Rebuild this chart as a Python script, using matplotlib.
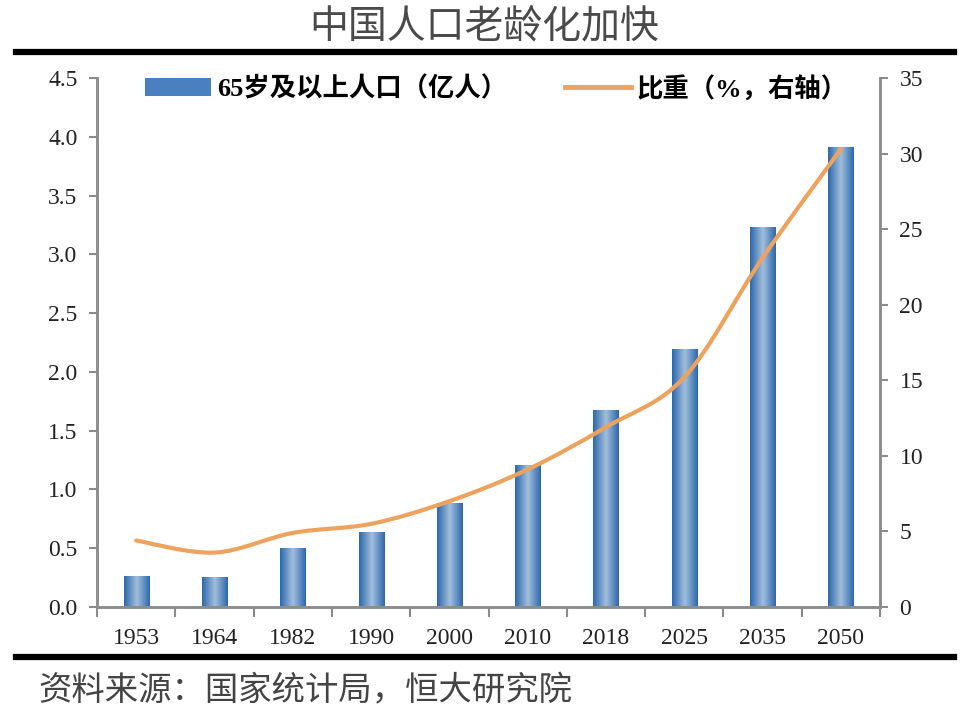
import numpy as np
import matplotlib
matplotlib.use("Agg")
import matplotlib.pyplot as plt
from matplotlib.colors import LinearSegmentedColormap
from matplotlib.path import Path
from matplotlib.patches import PathPatch, Patch
from matplotlib.lines import Line2D

plt.rcParams['font.family'] = ['Liberation Serif', 'Noto Sans CJK SC', 'DejaVu Sans']

years = ['1953', '1964', '1982', '1990', '2000', '2010', '2018', '2025', '2035', '2050']
pop65 = [0.26, 0.25, 0.50, 0.63, 0.88, 1.20, 1.67, 2.19, 3.23, 3.91]   # 亿人
share = [4.4, 3.6, 4.9, 5.5, 7.0, 9.1, 11.9, 15.2, 23.1, 30.3]        # %

bar_label = '65岁及以上人口（亿人）'
line_label = '比重（%，右轴）'
title = '中国人口老龄化加快'
source = '资料来源：国家统计局，恒大研究院'

axis_gray = '#8c8c8c'
orange = '#eda35e'
bar_cmap = LinearSegmentedColormap.from_list('cyl', ['#2d68ad', '#a3bfdc', '#2d68ad'])

fig = plt.figure(figsize=(9.69, 7.18), dpi=100)
ax = fig.add_axes([0.1001, 0.1546, 0.8081, 0.7368])
ax2 = ax.twinx()

# bars with a horizontal gradient
x = np.arange(len(years))
w = 0.32
grad = np.linspace(0, 1, 64).reshape(1, -1)
for xi, h in zip(x, pop65):
    ax.imshow(grad, cmap=bar_cmap, aspect='auto', extent=[xi - w / 2, xi + w / 2, 0, h],
              interpolation='bicubic', zorder=2)

ax.set_xlim(-0.5, len(years) - 0.5)
ax.set_ylim(0, 4.5)
ax.set_yticks(np.arange(0, 4.51, 0.5))
ax.set_yticklabels([f'{v:.1f}' for v in np.arange(0, 4.51, 0.5)])

# smooth line through the share points (Catmull-Rom as cubic Bezier)
pts = np.column_stack([x, share]).astype(float)
ext = np.vstack([pts[0], pts, pts[-1]])
verts = [tuple(pts[0])]
codes = [Path.MOVETO]
for i in range(len(pts) - 1):
    p0, p1, p2, p3 = ext[i], ext[i + 1], ext[i + 2], ext[i + 3]
    c1 = p1 + (p2 - p0) / 6
    c2 = p2 - (p3 - p1) / 6
    verts += [tuple(c1), tuple(c2), tuple(p2)]
    codes += [Path.CURVE4] * 3
ax2.add_patch(PathPatch(Path(verts, codes), facecolor='none', edgecolor=orange,
                        lw=3.0, capstyle='round', zorder=3))
ax2.set_ylim(0, 35)
ax2.set_yticks(np.arange(0, 36, 5))

# x ticks: marks between categories, labels at centres
ax.set_xticks(np.arange(-0.5, len(years), 1))
ax.set_xticklabels([])
ax.set_xticks(x, minor=True)
ax.set_xticklabels(years, minor=True)
ax.tick_params(axis='x', which='major', length=7, width=1.5, color=axis_gray)
ax.tick_params(axis='x', which='minor', length=0, pad=15, labelsize=17, labelcolor='#222222')
ax.tick_params(axis='y', length=6, width=1.5, color=axis_gray, labelsize=17, pad=8, labelcolor='#222222')
ax2.tick_params(axis='y', length=6, width=1.5, color=axis_gray, labelsize=17, pad=8, labelcolor='#222222')

for a in (ax, ax2):
    a.spines['top'].set_visible(False)
    for s in ('left', 'right', 'bottom'):
        a.spines[s].set_color(axis_gray)
        a.spines[s].set_linewidth(1.8)

handles = [Patch(facecolor='#4a80bf', edgecolor='none'),
           Line2D([0], [0], color=orange, lw=3.5)]
leg = ax2.legend(handles, [bar_label, line_label], loc='upper center', ncol=2,
                 frameon=False, bbox_to_anchor=(0.51, 1.05), columnspacing=2.2,
                 handlelength=2.5, handletextpad=0.2,
                 prop={'family': ['Liberation Serif', 'Noto Sans CJK SC'], 'weight': 'bold', 'size': 19})

# title, rules and source
fig.text(0.5, 0.962, title, ha='center', va='center', fontsize=28, color='#4a4a4a',
         family=['Noto Sans CJK SC'], fontweight='light')
fig.add_artist(Line2D([0.016, 0.985], [0.927, 0.927], color='black', lw=4.5, transform=fig.transFigure))
fig.add_artist(Line2D([0.016, 0.985], [0.085, 0.085], color='black', lw=4.5, transform=fig.transFigure))
fig.text(0.04, 0.038, source, ha='left', va='center', fontsize=24, color='#444444',
         family=['Noto Sans CJK SC'], style='italic')

fig.savefig('out.png', dpi=100)
